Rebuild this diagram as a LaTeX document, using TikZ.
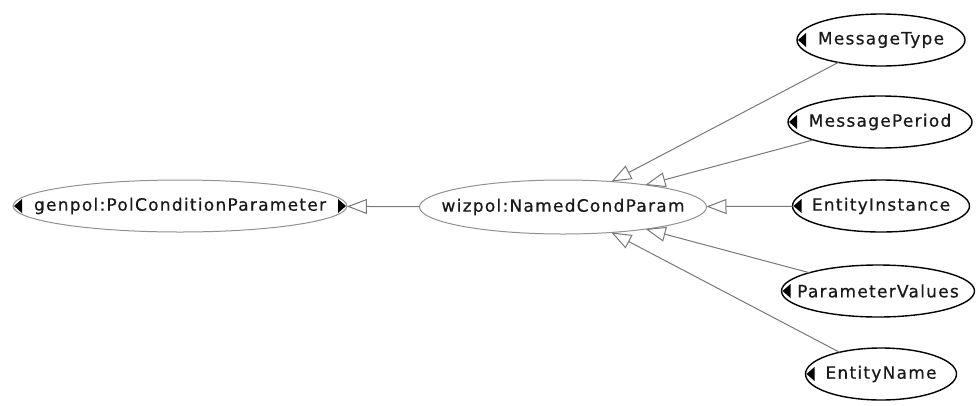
\documentclass[tikz,border=0pt]{standalone}
\usepackage{fontspec}
\setmainfont{DejaVu Sans}[LetterSpace=7.4, FakeBold=0.6]
\usetikzlibrary{shapes.geometric,arrows.meta}
\definecolor{edgegrey}{RGB}{120,120,120}
\definecolor{ringgrey}{RGB}{145,145,145}
\definecolor{inkgrey}{RGB}{25,25,25}
\newcommand{\cname}[1]{\makebox[0pt]{#1}}
\tikzset{
  cls/.style={ellipse, inner sep=0pt, outer sep=0pt, minimum height=52pt, text=inkgrey,
    font=\fontsize{17pt}{20pt}\selectfont},
  basecls/.style={cls, draw=ringgrey, line width=1pt},
  leafcls/.style={cls, draw=black, line width=1.4pt},
  isa/.style={draw=edgegrey, line width=1pt,
    -{Triangle[open, length=20pt, width=15pt, line width=1pt]}},
  expander/.style={fill=black}
}
\begin{document}
\begin{tikzpicture}[x=1pt, y=-1pt]
  \useasboundingbox (0,0) rectangle (976,405);

  % class nodes
  \node[basecls, minimum width=334pt] (gen) at (180,206) {\cname{genpol:PolConditionParameter}};
  \node[basecls, minimum width=287pt, minimum height=54pt] (wiz) at (563,207) {\cname{wizpol:NamedCondParam}};
  \node[leafcls, minimum width=168pt] (mt) at (881,40)  {\cname{MessageType}};
  \node[leafcls, minimum width=184pt] (mp) at (880,122) {\cname{MessagePeriod}};
  \node[leafcls, minimum width=177pt] (ei) at (881,206) {\cname{EntityInstance}};
  \node[leafcls, minimum width=193pt] (pv) at (878,291) {\cname{ParameterValues}};
  \node[leafcls, minimum width=151pt] (en) at (881,374) {\cname{EntityName}};

  % subclass links
  \draw[isa] (wiz) -- (gen);
  \foreach \n in {mt,mp,ei,pv,en}
    \draw[isa] (\n) -- (wiz);

  % expand markers at the ellipse tips
  \foreach \n in {gen,mt,mp,ei,pv,en}
    \fill[expander] (\n.west) ++(1,0) -- ++(8,-7) -- ++(0,14) -- cycle;
  \fill[expander] (gen.east) ++(-1,0) -- ++(-8,-7) -- ++(0,14) -- cycle;
\end{tikzpicture}
\end{document}
